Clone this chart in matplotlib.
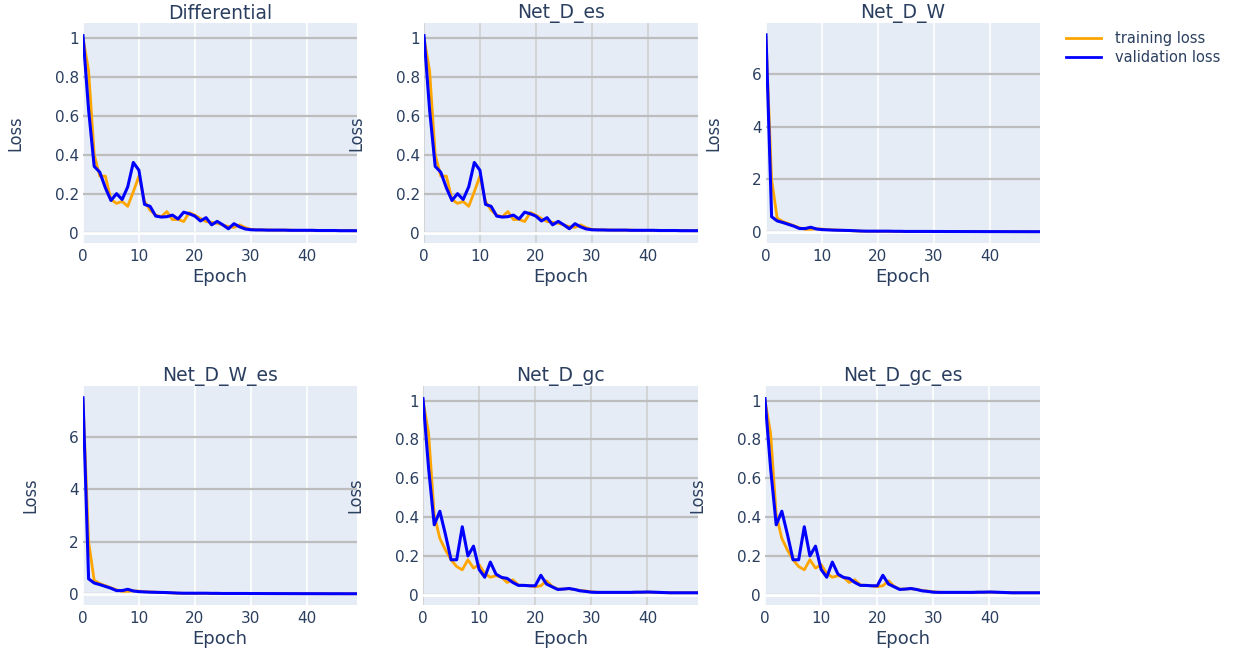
import matplotlib
matplotlib.use("Agg")
import matplotlib.pyplot as plt
from matplotlib.lines import Line2D
import numpy as np

# loss curves per model, 50 epochs each
epochs = np.arange(50)

diff_train = [1.00, 0.83, 0.40, 0.29, 0.29, 0.17, 0.15, 0.16, 0.135, 0.21,
              0.29, 0.16, 0.115, 0.09, 0.082, 0.108, 0.067, 0.068, 0.057, 0.103,
              0.09, 0.073, 0.057, 0.053, 0.048, 0.04, 0.031, 0.027, 0.04, 0.026,
              0.017, 0.015, 0.014, 0.014, 0.013, 0.013, 0.013, 0.013, 0.012, 0.012,
              0.012, 0.012, 0.012, 0.011, 0.011, 0.011, 0.011, 0.011, 0.010, 0.010]
diff_val = [1.01, 0.63, 0.34, 0.31, 0.23, 0.165, 0.20, 0.17, 0.235, 0.36,
            0.32, 0.145, 0.135, 0.085, 0.08, 0.082, 0.09, 0.07, 0.105, 0.097,
            0.085, 0.06, 0.077, 0.04, 0.058, 0.04, 0.02, 0.046, 0.03, 0.019,
            0.015, 0.014, 0.014, 0.013, 0.013, 0.013, 0.013, 0.012, 0.012, 0.012,
            0.012, 0.012, 0.011, 0.011, 0.011, 0.011, 0.010, 0.010, 0.010, 0.010]

w_train = [7.4, 2.0, 0.52, 0.40, 0.32, 0.24, 0.16, 0.10, 0.10, 0.12,
           0.11, 0.09, 0.08, 0.07, 0.06, 0.05, 0.04, 0.03, 0.025, 0.025,
           0.025, 0.025, 0.025, 0.022, 0.02, 0.02, 0.02, 0.02, 0.02, 0.018,
           0.018, 0.017, 0.016, 0.016, 0.015, 0.015, 0.014, 0.014, 0.013, 0.013,
           0.013, 0.012, 0.012, 0.012, 0.011, 0.011, 0.011, 0.010, 0.010, 0.010]
w_val = [7.5, 0.58, 0.42, 0.36, 0.29, 0.22, 0.13, 0.13, 0.18, 0.115,
         0.09, 0.08, 0.07, 0.065, 0.06, 0.055, 0.045, 0.035, 0.03, 0.03,
         0.03, 0.03, 0.03, 0.025, 0.025, 0.02, 0.02, 0.02, 0.02, 0.02,
         0.018, 0.018, 0.017, 0.016, 0.016, 0.015, 0.015, 0.014, 0.014, 0.013,
         0.013, 0.013, 0.012, 0.012, 0.011, 0.011, 0.011, 0.010, 0.010, 0.010]

gc_train = [1.00, 0.83, 0.41, 0.29, 0.23, 0.18, 0.145, 0.128, 0.18, 0.137,
            0.155, 0.11, 0.09, 0.098, 0.09, 0.063, 0.077, 0.05, 0.048, 0.046,
            0.041, 0.046, 0.072, 0.043, 0.029, 0.029, 0.031, 0.027, 0.022, 0.019,
            0.015, 0.013, 0.012, 0.012, 0.012, 0.012, 0.012, 0.012, 0.013, 0.013,
            0.013, 0.013, 0.012, 0.011, 0.010, 0.010, 0.010, 0.010, 0.010, 0.010]
gc_val = [1.01, 0.65, 0.36, 0.43, 0.31, 0.18, 0.18, 0.35, 0.20, 0.25,
          0.13, 0.09, 0.168, 0.106, 0.089, 0.084, 0.063, 0.048, 0.048, 0.046,
          0.046, 0.10, 0.055, 0.041, 0.027, 0.029, 0.032, 0.027, 0.02, 0.017,
          0.013, 0.012, 0.012, 0.012, 0.012, 0.012, 0.012, 0.012, 0.013, 0.013,
          0.014, 0.013, 0.012, 0.011, 0.010, 0.010, 0.010, 0.010, 0.010, 0.010]

# early-stopping runs logged the same curves
es_train, es_val = diff_train, diff_val
w_es_train, w_es_val = w_train, w_val
gc_es_train, gc_es_val = gc_train, gc_val

titles = ["Differential", "Net_D_es", "Net_D_W", "Net_D_W_es", "Net_D_gc", "Net_D_gc_es"]
train_sets = [diff_train, es_train, w_train, w_es_train, gc_train, gc_es_train]
val_sets = [diff_val, es_val, w_val, w_es_val, gc_val, gc_es_val]

W, H = 1233, 652
# pixel boxes: left, top, right, bottom
boxes = [(83, 23, 357, 243), (424, 23, 698, 243), (766, 23, 1040, 243),
         (83, 386, 357, 605), (423, 386, 698, 605), (765, 386, 1040, 605)]
vgrid = ["white", "#d0d0d0", "white", "white", "#d0d0d0", "white"]

TXT = "#2a3f5f"
BG = "#e5ecf6"
ORANGE = "#ffa500"
BLUE = "#0000ff"

fig = plt.figure(figsize=(W / 100, H / 100), dpi=100)

for i, title in enumerate(titles):
    l, t, r, b = boxes[i]
    ax = fig.add_axes([l / W, 1 - b / H, (r - l) / W, (b - t) / H])
    ax.set_facecolor(BG)
    for s in ax.spines.values():
        s.set_visible(False)
    ax.set_axisbelow(True)

    ax.plot(epochs, train_sets[i], color=ORANGE, lw=2.0, zorder=3)
    ax.plot(epochs, val_sets[i], color=BLUE, lw=2.2, zorder=4)

    big = max(val_sets[i]) > 2
    if big:
        ax.set_ylim(-0.42, 7.95)
        ax.set_yticks([0, 2, 4, 6])
        ax.set_yticklabels(["0", "2", "4", "6"])
        lab_off = 53
    else:
        ax.set_ylim(-0.053, 1.075)
        ax.set_yticks([0, 0.2, 0.4, 0.6, 0.8, 1])
        ax.set_yticklabels(["0", "0.2", "0.4", "0.6", "0.8", "1"])
        lab_off = 68
    ax.set_xlim(0, 49)
    ax.set_xticks([0, 10, 20, 30, 40])

    ax.grid(axis="y", color="#bdbdbd", lw=1.6)
    ax.grid(axis="x", color=vgrid[i], lw=1.2)
    ax.axhline(0, color="white", lw=2, zorder=2)

    ax.tick_params(length=0, labelsize=11, labelcolor=TXT)
    ax.tick_params(axis="y", pad=3)
    ax.tick_params(axis="x", pad=4)
    ax.set_title(title, fontsize=13.5, color=TXT, pad=3)
    ax.set_xlabel("Epoch", fontsize=13, color=TXT, labelpad=3)
    ax.set_ylabel("Loss", fontsize=13, color=TXT, family="DejaVu Sans",
                  fontstretch="condensed")
    ax.yaxis.set_label_coords(-lab_off / (r - l), 0.5)
    ax.yaxis.label.set_va("center")

handles = [Line2D([], [], color=ORANGE, lw=2),
           Line2D([], [], color=BLUE, lw=2)]
fig.legend(handles, ["training loss", "validation loss"], loc="upper left",
           bbox_to_anchor=(1060 / W, 1 - 25 / H), frameon=False, fontsize=10.5,
           handlelength=2.4, handletextpad=0.95, labelcolor=TXT, borderaxespad=0,
           labelspacing=0.3)

fig.savefig("out.png", dpi=100, facecolor="white")
